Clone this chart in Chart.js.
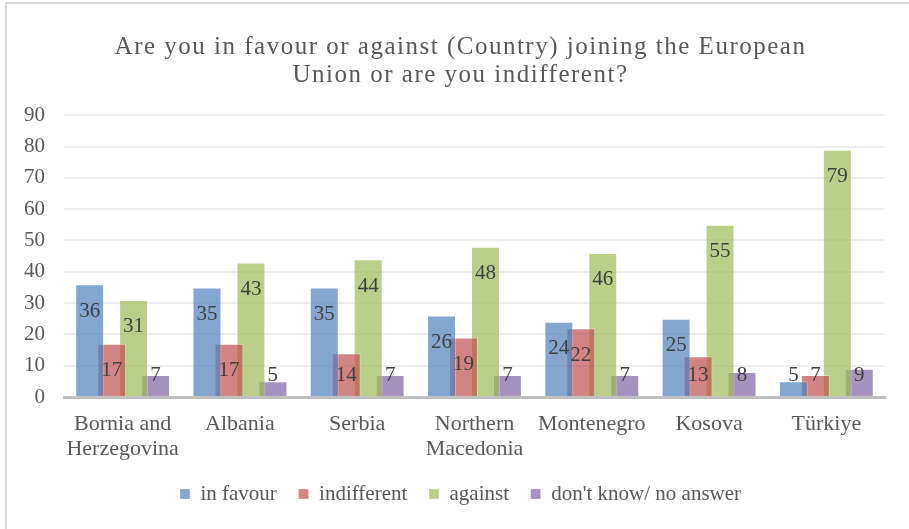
<!DOCTYPE html>
<html><head><meta charset="utf-8">
<script src="https://cdn.jsdelivr.net/npm/chart.js@4"></script>
<style>
html,body{margin:0;padding:0;background:#fff;overflow:hidden}
#frame{position:absolute;left:5px;top:2px;width:920px;height:540px;border-left:2px solid #d9d9d9;border-top:2px solid #d9d9d9;box-sizing:border-box}
#wrap{position:absolute;left:0;top:0;width:909px;height:529px}
</style></head><body>
<div id="frame"></div>
<div id="wrap"><canvas id="c"></canvas></div>
<script>
const titleLines = ["Are you in favour or against (Country) joining the European", "Union or are you indifferent?"];
const categories = [["Bornia and","Herzegovina"],"Albania","Serbia",["Northern","Macedonia"],"Montenegro","Kosova","Türkiye"];
const seriesNames = ["in favour","indifferent","against","don't know/ no answer"];
const inFavour    = [36,35,35,26,24,25,5];
const indifferent = [17,17,14,19,22,13,7];
const against     = [31,43,44,48,46,55,79];
const dontKnow    = [7,5,7,7,7,8,9];
const yMin = 0, yMax = 90, yStep = 10;

const colors = ['rgba(79,129,189,0.7)','rgba(192,80,77,0.7)','rgba(155,187,89,0.7)','rgba(128,100,162,0.7)'];
const SERIF = '"Liberation Serif", "Times New Roman", serif';
const BOX_SHIFT = 18; // horizontal centring of title and legend over the whole frame

const barLabels = {
  id:'barLabels',
  afterDatasetsDraw(chart){
    const ctx = chart.ctx;
    ctx.save();
    ctx.font = '21px ' + SERIF;
    ctx.fillStyle = '#404040';
    ctx.textAlign = 'center';
    ctx.textBaseline = 'alphabetic';
    chart.data.datasets.forEach((ds, di) => {
      const meta = chart.getDatasetMeta(di);
      meta.data.forEach((bar, i) => {
        const cy = Math.min(bar.y + 25.5, bar.base - 22);
        ctx.fillText(String(ds.data[i]), bar.x, cy + 7);
      });
    });
    ctx.restore();
  }
};
function patchBox(chart, box, spacing){
  if (!box || box._patched) return;
  const d = box.draw.bind(box);
  box.draw = function(a){
    const ctx = chart.ctx;
    ctx.save();
    ctx.translate(BOX_SHIFT, 0);
    if (spacing && ('letterSpacing' in ctx)) ctx.letterSpacing = spacing;
    d(a);
    ctx.restore();
  };
  box._patched = true;
}
const boxShift = {
  id:'boxShift',
  afterLayout(chart){
    patchBox(chart, chart.titleBlock, '1.5px');
    patchBox(chart, chart.legend, null);
  }
};

const data = {
  labels: categories,
  datasets: [inFavour, indifferent, against, dontKnow].map((vals, k) => ({
    label: seriesNames[k],
    data: vals,
    backgroundColor: colors[k],
    borderColor: 'rgba(255,255,255,0.3)',
    borderWidth: 1,
    barPercentage: 1.318,
    categoryPercentage: 0.749
  }))
};

new Chart(document.getElementById('c'), {
  type: 'bar',
  data,
  plugins: [barLabels, boxShift],
  options: {
    responsive: true,
    maintainAspectRatio: false,
    animation: false,
    layout: { padding: { left: 0, right: 24, top: 0, bottom: 14.5 } },
    plugins: {
      tooltip: { enabled: false },
      title: {
        display: true,
        text: titleLines,
        color: '#595959',
        font: { family: SERIF, size: 25, weight: 'normal', lineHeight: 1.13 },
        padding: { top: 33, bottom: 25.75 }
      },
      legend: {
        position: 'bottom',
        labels: {
          boxWidth: 10, boxHeight: 10,
          color: '#595959',
          font: { family: SERIF, size: 21 },
          padding: 21.7
        }
      }
    },
    scales: {
      x: {
        grid: { display: false },
        border: { display: true, color: '#c0c0c0', width: 3 },
        ticks: { color: '#595959', font: { family: SERIF, size: 22, lineHeight: 1.16 }, padding: 6, maxRotation: 0, autoSkip: false },
        afterFit(s){ s.height = 64.8; }
      },
      y: {
        min: yMin, max: yMax,
        ticks: { stepSize: yStep, color: '#595959', font: { family: SERIF, size: 21 }, padding: 19 },
        grid: { color: '#eeeeee', lineWidth: 2, drawTicks: false },
        border: { display: false },
        afterFit(s){ s.width = 64; }
      }
    }
  }
});
</script>
</body></html>
